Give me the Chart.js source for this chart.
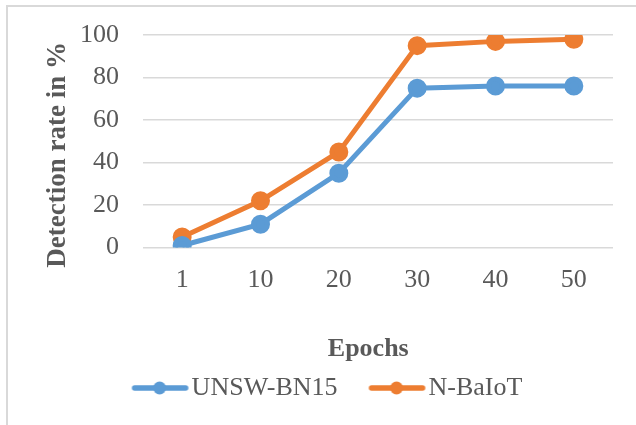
<!DOCTYPE html>
<html>
<head>
<meta charset="utf-8">
<script src="https://cdn.jsdelivr.net/npm/chart.js@4"></script>
<style>
  body { margin: 0; background: #fff; }
  #wrap { position: relative; width: 636px; height: 425px; overflow: hidden; }
  #frame { position: absolute; left: 6px; top: 5px; width: 700px; height: 500px; border: 2px solid #d9d9d9; }
  canvas { position: absolute; left: 0; top: 0; }
</style>
</head>
<body>
<div id="wrap">
  <div id="frame"></div>
  <canvas id="myChart" width="636" height="425"></canvas>
</div>
<script>
var epochs = ['1', '10', '20', '30', '40', '50'];
var unsw = [1, 11, 35, 75, 76, 76];
var nbaiot = [5, 22, 45, 95, 97, 98];
var yTicks = [0, 20, 40, 60, 80, 100];

var blue = '#5b9bd5';
var orange = '#ed7d31';
var grey = '#595959';
var nb = '\u00a0';

// legend sample: line with a dot, drawn off-centre so it sits close to the text
function legendMark(color){
    var c = document.createElement('canvas');
    c.width = 100;
    c.height = 16;
    var g = c.getContext('2d');
    g.strokeStyle = color;
    g.lineWidth = 5.5;
    g.lineCap = 'round';
    g.beginPath();
    g.moveTo(40, 8);
    g.lineTo(91, 8);
    g.stroke();
    g.fillStyle = color;
    g.beginPath();
    g.arc(65, 8, 6.5, 0, Math.PI * 2);
    g.fill();
    return c;
}

var marks = [legendMark(blue), legendMark(orange)];

var ctx = document.getElementById('myChart').getContext('2d');
var chart = new Chart(ctx, {
    type: 'line',
    data: {
        labels: epochs,
        datasets: [{
            label: 'UNSW-BN15',
            data: unsw,
            borderColor: blue,
            backgroundColor: blue,
            borderWidth: 5,
            pointRadius: 7,
            pointHoverRadius: 7
        },{
            label: 'N-BaIoT',
            data: nbaiot,
            borderColor: orange,
            backgroundColor: orange,
            borderWidth: 5,
            pointRadius: 7,
            pointHoverRadius: 7
        }]
    },
    options: {
        responsive: false,
        animation: false,
        layout: { padding: { left: 20, right: 23, top: 35, bottom: 14 } },
        plugins: {
            tooltip: { enabled: false },
            legend: {
                position: 'bottom',
                labels: {
                    color: grey,
                    font: { family: 'Liberation Serif', size: 26 },
                    usePointStyle: true,
                    pointStyleWidth: 68,
                    padding: 10,
                    generateLabels: function(ch){
                        var items = Chart.defaults.plugins.legend.labels.generateLabels(ch);
                        items.forEach(function(it, i){ it.pointStyle = marks[i]; });
                        return items;
                    }
                }
            }
        },
        scales: {
            x: {
                offset: true,
                grid: { display: false, drawTicks: false },
                border: { display: false },
                ticks: { color: grey, font: { family: 'Liberation Serif', size: 26 }, padding: 17 },
                title: {
                    display: true,
                    text: 'Epochs' + nb + nb + nb,
                    color: grey,
                    font: { family: 'Liberation Serif', size: 26, weight: 'bold' },
                    padding: { top: 21, bottom: 0 }
                }
            },
            y: {
                min: 0,
                max: 100,
                afterBuildTicks: function(axis){
                    axis.ticks = yTicks.map(function(v){ return { value: v }; });
                },
                afterFit: function(axis){
                    axis.width = 123;
                },
                grid: { color: '#d9d9d9', lineWidth: 1.5, drawTicks: true, tickLength: 10, tickColor: 'rgba(0,0,0,0)' },
                border: { display: false },
                ticks: { color: grey, font: { family: 'Liberation Serif', size: 26 }, padding: 14 },
                title: {
                    display: true,
                    text: 'Detection rate in %' + nb + nb + nb + nb,
                    color: grey,
                    font: { family: 'Liberation Serif', size: 27, weight: 'bold' },
                    padding: { top: 22, bottom: 0 }
                }
            }
        }
    }
});
</script>
</body>
</html>
